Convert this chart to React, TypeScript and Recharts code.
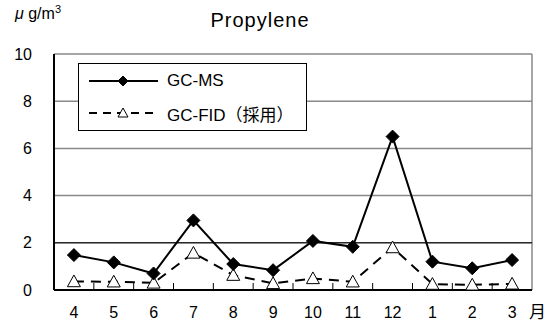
import React from 'react';
import { LineChart, Line, XAxis, YAxis, CartesianGrid, ReferenceLine, Legend } from 'recharts';

const months = ['4', '5', '6', '7', '8', '9', '10', '11', '12', '1', '2', '3'];
const gcMs = [1.48, 1.17, 0.7, 2.95, 1.1, 0.84, 2.08, 1.83, 6.5, 1.2, 0.92, 1.27];
const gcFid = [0.36, 0.35, 0.3, 1.57, 0.63, 0.28, 0.49, 0.35, 1.8, 0.25, 0.22, 0.26];
const yTicks = [0, 2, 4, 6, 8, 10];

const data = months.map((m, i) => ({ x: i + 1, month: m, ms: gcMs[i], fid: gcFid[i] }));
// month ticks at 1..12, boundary tick marks at 1.5..11.5
const xTicks: number[] = [];
months.forEach((_, i) => {
  xTicks.push(i + 1);
  if (i < months.length - 1) xTicks.push(i + 1.5);
});

const font = '"Liberation Sans", Arial, "Noto Sans CJK JP", sans-serif';
const LABEL_GAP = 17;

const XTick = (props: any) => {
  const { x, y, payload } = props;
  const v = payload.value as number;
  if (Number.isInteger(v)) {
    return (
      <text x={x} y={y} dy="0.71em" textAnchor="middle" fill="#000" fontSize={16} fontFamily={font}>
        {months[v - 1]}
      </text>
    );
  }
  const base = y - LABEL_GAP - 1;
  return <line x1={x} x2={x} y1={base} y2={base - 6} stroke="#000" strokeWidth={1} />;
};

const Diamond = (props: any) => {
  const { cx, cy, size = 6.5 } = props;
  if (cx == null || cy == null) return null;
  const r = size;
  return (
    <polygon
      points={`${cx},${cy - r} ${cx + r},${cy} ${cx},${cy + r} ${cx - r},${cy}`}
      fill="#000"
      stroke="#000"
    />
  );
};

const Triangle = (props: any) => {
  const { cx, cy, size = 6.5 } = props;
  if (cx == null || cy == null) return null;
  const s = size;
  return (
    <polygon
      points={`${cx},${cy - s} ${cx + s},${cy + s * 0.8} ${cx - s},${cy + s * 0.8}`}
      fill="#fff"
      stroke="#000"
      strokeWidth={1}
    />
  );
};

const LegendBox = () => (
  <div
    style={{
      width: 227,
      height: 66,
      border: '1px solid #000',
      background: '#fff',
      fontFamily: font,
      fontSize: 17,
      color: '#000',
    }}
  >
    <div style={{ display: 'flex', alignItems: 'center', height: 34 }}>
      <svg width={88} height={20}>
        <line x1={10} y1={10} x2={79} y2={10} stroke="#000" strokeWidth={2} />
        <Diamond cx={44} cy={10} size={5} />
      </svg>
      <span>GC-MS</span>
    </div>
    <div style={{ display: 'flex', alignItems: 'center', height: 30 }}>
      <svg width={88} height={20}>
        <line x1={10} y1={10} x2={79} y2={10} stroke="#000" strokeWidth={2} strokeDasharray="8 6" />
        <Triangle cx={44} cy={10} size={5} />
      </svg>
      <span>GC-FID（採用）</span>
    </div>
  </div>
);

export default function App() {
  return (
    <div style={{ position: 'absolute', left: 0, top: 0, width: 549, height: 327, background: '#fff' }}>
      <div style={{ position: 'absolute', left: 15, top: 3, fontFamily: font, fontSize: 16 }}>
        <i>μ</i> g/m<sup style={{ fontSize: 11 }}>3</sup>
      </div>
      <div
        style={{
          position: 'absolute',
          left: 160,
          width: 200,
          top: 9,
          textAlign: 'center',
          fontFamily: font,
          fontSize: 20,
          letterSpacing: 1,
        }}
      >
        Propylene
      </div>
      <div style={{ position: 'absolute', left: 529, top: 303, fontFamily: font, fontSize: 17, lineHeight: '20px' }}>
        月
      </div>
      <LineChart
        width={549}
        height={327}
        data={data}
        margin={{ top: 54, right: 17, bottom: 7, left: 0 }}
        style={{ fontFamily: font }}
      >
        <CartesianGrid horizontal vertical={false} stroke="#888" strokeWidth={1.5} />
        <XAxis
          dataKey="x"
          type="number"
          domain={[0.5, 12.5]}
          ticks={xTicks}
          interval={0}
          tickLine={false}
          tickSize={0}
          tickMargin={LABEL_GAP}
          height={30}
          axisLine={{ stroke: '#000', strokeWidth: 2 }}
          tick={<XTick />}
        />
        <YAxis
          domain={[0, 10]}
          ticks={yTicks}
          width={54}
          tickLine={false}
          tickSize={0}
          tickMargin={22}
          axisLine={{ stroke: '#000', strokeWidth: 2 }}
          tick={{ fill: '#000', fontSize: 16 }}
        />
        <ReferenceLine x={12.5} stroke="#888" strokeWidth={1.5} />
        <ReferenceLine y={2} stroke="#000" strokeWidth={1} />
        <Legend
          layout="vertical"
          align="center"
          verticalAlign="middle"
          wrapperStyle={{ left: 78, top: 63, width: 229 }}
          content={() => <LegendBox />}
        />
        <Line
          dataKey="fid"
          name="GC-FID（採用）"
          stroke="#000"
          strokeWidth={2}
          strokeDasharray="10 7"
          dot={<Triangle />}
          isAnimationActive={false}
        />
        <Line
          dataKey="ms"
          name="GC-MS"
          stroke="#000"
          strokeWidth={2}
          dot={<Diamond />}
          isAnimationActive={false}
        />
      </LineChart>
    </div>
  );
}
